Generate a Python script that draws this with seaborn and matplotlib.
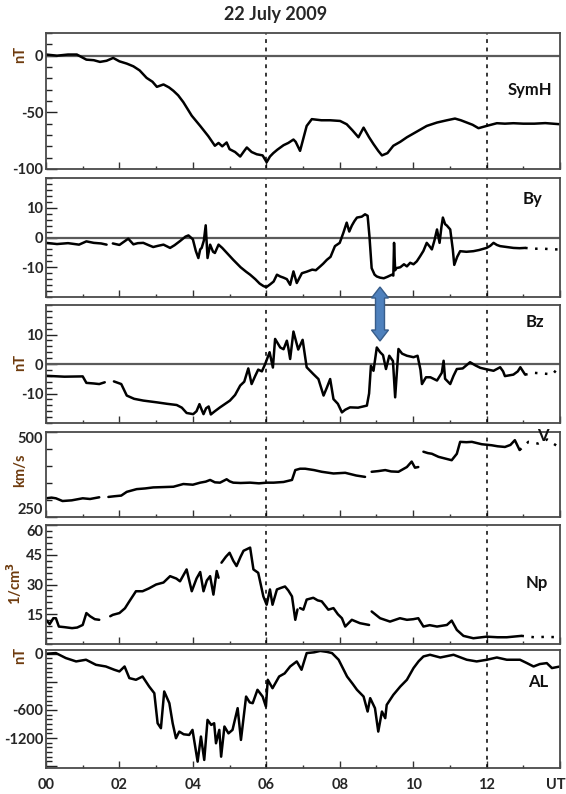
import numpy as np
import pandas as pd
import seaborn as sns
import matplotlib
matplotlib.use("Agg")
import matplotlib.pyplot as plt
from matplotlib.ticker import MultipleLocator, FixedLocator, FuncFormatter
from matplotlib.patches import Polygon
from matplotlib.transforms import ScaledTranslation

nan = np.nan

# SymH (nT)
symh_t = [0, 0.3, 0.6, 0.84, 1.1, 1.3, 1.47, 1.65, 1.83, 2.0, 2.2, 2.38, 2.55, 2.74, 2.9,
          3.02, 3.2, 3.35, 3.47, 3.6, 3.74, 3.97, 4.2, 4.42, 4.6, 4.7, 4.8, 4.92, 5.0, 5.15,
          5.29, 5.4, 5.47, 5.6, 5.74, 5.9, 6.01, 6.1, 6.19, 6.3, 6.47, 6.6, 6.74, 6.8, 6.92,
          7.1, 7.24, 7.5, 7.74, 8.01, 8.19, 8.35, 8.51, 8.65, 8.8, 8.92, 9.05, 9.15, 9.3, 9.46,
          9.65, 9.83, 10.1, 10.37, 10.65, 10.92, 11.14, 11.3, 11.46, 11.62, 11.78, 12.0, 12.28,
          12.5, 12.73, 13.0, 13.3, 13.6, 14.0]
symh = [1, 0, 1, 1, -3.5, -4, -5.5, -4.5, -2, -5, -7, -9.4, -13, -19.6, -23,
        -27.5, -25.4, -28, -31, -35, -41, -53, -62, -71, -79.5, -77, -80, -76.6, -82.5, -85,
        -89, -84, -81, -85, -87, -88, -94, -89, -86, -83, -79, -77, -74, -76, -84,
        -62, -56, -57, -57, -57.6, -60.5, -66, -72, -63.5, -72, -78, -84, -88, -86, -79.5,
        -76, -72, -67, -62, -59, -57, -55.5, -57, -59, -61, -64, -62, -59.6,
        -60, -59.6, -60, -60, -59.5, -60.5]

# By (nT)
by_t = [0, 0.3, 0.6, 0.9, 1.1, 1.3, 1.5, 1.65, 1.74, 1.82, 2.0, 2.24, 2.38, 2.5, 2.65, 2.8,
        2.92, 3.05, 3.2, 3.38, 3.5, 3.65, 3.8, 3.88, 4.0, 4.08, 4.15, 4.2, 4.24, 4.3, 4.35,
        4.4, 4.47, 4.55, 4.6, 4.7, 4.8, 4.95, 5.1, 5.3, 5.45, 5.56, 5.7, 5.82, 5.92, 6.0,
        6.1, 6.2, 6.29, 6.38, 6.47, 6.56, 6.65, 6.74, 6.83, 6.97, 7.1, 7.25, 7.35, 7.47,
        7.55, 7.65, 7.75, 7.87, 8.0, 8.1, 8.19, 8.26, 8.33, 8.4, 8.47, 8.6, 8.69, 8.76,
        8.81, 8.87, 8.95, 9.01, 9.1, 9.2, 9.3, 9.42, 9.46, 9.48, 9.51, 9.54, 9.65, 9.75,
        9.83, 9.92, 10.01, 10.1, 10.19, 10.28, 10.37, 10.45, 10.51, 10.58, 10.65, 10.72,
        10.77, 10.81, 10.87, 10.92, 11.01, 11.08, 11.12, 11.2, 11.28, 11.45, 11.64, 11.8,
        12.0, 12.1, 12.19, 12.28, 12.37, 12.55, 12.73, 12.9, 13.05]
by = [-1.8, -2.2, -1.9, -2.4, -1.3, -1.8, -2.0, -2.4, nan, -2.0, -2.5, -0.4, -2.3, -1.9,
      -1.8, -2.6, -3.2, -2.8, -2.4, -3.5, -2.6, -1.2, 0.3, 0.7, -0.6, -4.5, -6.9, -4.0,
      -3.5, -1.0, 4.1, -6.9, -2.4, -4.8, -5.2, -2.4, -3.5, -5.5, -7.5, -10.0, -11.5, -12.5,
      -14.0, -15.5, -16.3, -16.7, -15.8, -14.8, -12.5, -13.1, -13.5, -14.0, -15.9, -11.4,
      -15.3, -12.0, -11.5, -10.8, -11.0, -9.7, -8.8, -7.5, -6.5, -2.9, -1.8, 1.6, 5.0, 2.0,
      4.0, 5.5, 6.7, 7.0, 7.8, 7.3, 0.4, -10.3, -12.5, -13.1, -13.5, -13.7, -13.2, -12.5,
      -12.8, -1.8, -11.0, -10.3, -10.0, -9.0, -9.7, -8.5, -9.0, -8.0, -6.3, -4.5, -1.8,
      -3.0, -4.0, -1.0, 2.7, -1.8, 3.5, 6.7, 4.5, 4.0, 2.7, -4.0, -9.2, -6.5, -4.6, -4.8,
      -4.6, -4.2, -3.5, -2.8, -1.8, -2.5, -2.9, -3.2, -3.5, -3.6, -3.5]
by_tail_t = [13.05, 13.3, 13.5, 13.7, 13.9, 14.0]
by_tail = [-3.5, -3.8, -3.7, -3.9, -4.0, -4.0]

# Bz (nT)
bz_t = [0, 0.5, 1.0, 1.1, 1.3, 1.45, 1.6, 1.72, 1.85, 2.05, 2.2, 2.4, 2.65, 3.02, 3.3,
        3.56, 3.7, 3.83, 4.01, 4.1, 4.18, 4.24, 4.29, 4.36, 4.43, 4.49, 4.6, 4.74, 5.01,
        5.15, 5.29, 5.4, 5.51, 5.6, 5.7, 5.78, 5.88, 5.97, 6.09, 6.18, 6.24, 6.38, 6.47,
        6.56, 6.6, 6.65, 6.74, 6.87, 6.99, 7.1, 7.28, 7.42, 7.56, 7.65, 7.74, 7.83, 7.95,
        8.06, 8.15, 8.28, 8.5, 8.74, 8.8, 8.85, 8.92, 9.01, 9.1, 9.18, 9.26, 9.35, 9.45,
        9.51, 9.6, 9.7, 9.83, 10.01, 10.12, 10.2, 10.24, 10.35, 10.47, 10.65, 10.78, 10.83,
        10.87, 11.01, 11.1, 11.19, 11.35, 11.55, 11.7, 11.83, 12.0, 12.19, 12.37, 12.45,
        12.5, 12.73, 12.85, 12.92, 13.05]
bz = [-4, -4.3, -4.2, -6.4, -6.6, -6.8, -6.2, nan, -5.9, -6.8, -10.7, -11.8, -12.4, -13,
      -13.5, -13.9, -14.8, -16.6, -17, -16, -13.6, -15.5, -17, -15, -14.4, -17.1, -16,
      -14.7, -12.4, -10.5, -7.3, -6, -1.5, -6.8, -4, -1.9, -2.5, 0, 4, -1.2, 8.5, 5.6, 5.0,
      7.9, 5.5, 1.7, 11, 4.9, 8.2, -1.1, -3.4, -5.1, -10.7, -8, -5.1, -11.9, -13.5, -16.4,
      -15.5, -14.7, -14.8, -14.1, -10, -0.6, -2.3, 5.6, 4, 3, -1.7, 2.8, 1, -11.3, 5.1, 3.5,
      2.8, 2.3, 2.8, -2, -6.8, -4.5, -4.5, -5.6, -3, 1.1, -5, -6.8, -4, -1.7, -1.5, 0.6,
      -0.5, -1.3, -1.8, -2.3, -1.1, -2.5, -4.1, -3.6, -2.5, -1.1, -3.6]
bz_tail_t = [13.05, 13.3, 13.6, 13.8, 13.96, 14.0]
bz_tail = [-3.6, -3.0, -3.3, -3.5, -1.1, -1.0]

# V (km/s)
v_t = [0, 0.15, 0.27, 0.45, 0.7, 1.0, 1.2, 1.45, 1.6, 1.7, 1.86, 2.05, 2.2, 2.47, 2.7,
       2.92, 3.2, 3.47, 3.74, 4.0, 4.2, 4.35, 4.47, 4.6, 4.74, 4.92, 5.0, 5.1, 5.3, 5.56,
       5.8, 6.01, 6.2, 6.47, 6.7, 6.79, 6.92, 7.06, 7.3, 7.51, 7.83, 8.15, 8.45, 8.69,
       8.78, 8.87, 9.05, 9.24, 9.4, 9.6, 9.83, 9.96, 10.05, 10.14, 10.2, 10.28, 10.4,
       10.51, 10.69, 10.87, 11.05, 11.19, 11.28, 11.45, 11.6, 11.87, 12.14, 12.3, 12.5,
       12.65, 12.77, 12.9]
v = [305, 307, 305, 297, 299, 305, 303, 308, nan, 309, 311, 313, 324, 332, 334, 337, 338,
     339, 347, 345, 351, 354, 359, 352, 351, 361, 355, 351, 350, 351, 349, 351, 351, 353,
     359, 388, 392, 392, 388, 383, 378, 380, 372, 368, nan, 383, 385, 388, 384, 383, 397,
     413, 395, 397, nan, 442, 438, 436, 427, 422, 417, 436, 471, 470, 471, 464, 461, 458,
     456, 462, 476, 447]
v_tail_t = [12.9, 13.14, 13.4, 13.65, 13.96, 14.0]
v_tail = [447, 471, 466, 478, 456, 452]

# Np (1/cm3)
np_t = [0, 0.1, 0.2, 0.27, 0.35, 0.5, 0.71, 0.85, 1.0, 1.1, 1.2, 1.33, 1.45, 1.6, 1.75,
        1.82, 2.0, 2.15, 2.27, 2.45, 2.63, 2.8, 3.0, 3.2, 3.38, 3.55, 3.65, 3.83, 3.97, 4.1,
        4.2, 4.29, 4.38, 4.47, 4.56, 4.65, 4.7, 4.74, 4.78, 4.9, 5.0, 5.1, 5.19, 5.3, 5.38,
        5.56, 5.65, 5.78, 5.92, 6.01, 6.1, 6.17, 6.29, 6.4, 6.51, 6.6, 6.7, 6.79, 6.85,
        6.88, 6.92, 7.01, 7.1, 7.28, 7.4, 7.51, 7.69, 7.83, 7.95, 8.06, 8.15, 8.33, 8.55,
        8.8, 8.84, 8.87, 9.1, 9.37, 9.64, 9.83, 10.0, 10.14, 10.28, 10.45, 10.65, 10.92,
        11.05, 11.19, 11.37, 11.64, 12.0, 12.3, 12.55, 12.95]
np_v = [12.2, 10, 13, 13, 8.8, 8.5, 8, 8.3, 9.6, 15.6, 14, 12.5, 12.2, nan, 14, 14.7, 15.6,
        18, 21.5, 26.6, 26.6, 28, 30, 31, 34.2, 33, 31.6, 37.6, 26.6, 33, 36.3, 26.6, 32,
        34.2, 24.9, 36.8, 33.4, nan, 41, 44, 46, 42, 39.3, 44, 47, 48.6, 37.6, 35.9, 24,
        19.8, 27.5, 19.8, 27.5, 28.3, 29, 27, 24, 12.2, 17.4, nan, 18.1, 17.3, 22.4, 23.3,
        22, 21.5, 17.3, 18.1, 15, 13, 8.8, 12.2, 10.5, 9.6, nan, 16.4, 13, 11.3, 13, 12.2,
        12.5, 13, 8.8, 9.5, 8.8, 9.6, 11.8, 7.1, 4.1, 2.9, 3.7, 3.4, 3.4, 4.1]
np_tail_t = [12.95, 13.3, 13.6, 14.0]
np_tail = [4.1, 3.4, 3.6, 3.4]

# AL (nT)
al_t = [0, 0.27, 0.54, 0.82, 1.09, 1.36, 1.63, 1.86, 2.0, 2.14, 2.27, 2.45, 2.63, 2.81,
        2.95, 3.04, 3.13, 3.22, 3.36, 3.45, 3.54, 3.63, 3.75, 3.9, 3.99, 4.13, 4.22, 4.31,
        4.4, 4.5, 4.58, 4.63, 4.72, 4.77, 4.86, 4.97, 5.08, 5.22, 5.31, 5.45, 5.55, 5.63,
        5.76, 5.9, 5.99, 6.04, 6.17, 6.35, 6.5, 6.65, 6.83, 6.96, 7.1, 7.3, 7.47, 7.65,
        7.79, 7.97, 8.2, 8.35, 8.47, 8.65, 8.76, 8.83, 8.96, 9.05, 9.15, 9.24, 9.28, 9.46,
        9.65, 9.83, 10.01, 10.15, 10.28, 10.46, 10.74, 11.1, 11.46, 11.73, 12.01, 12.28,
        12.55, 12.91, 13.1, 13.28, 13.45, 13.64, 13.78, 14.0]
al = [0, 7, -46, -82, -64, -118, -136, -171, -189, -136, -260, -278, -243, -350, -421,
      -742, -795, -403, -528, -742, -902, -831, -860, -867, -813, -1152, -884, -1134, -706,
      -760, -742, -956, -813, -1099, -777, -850, -813, -581, -920, -457, -520, -528, -385,
      -457, -564, -278, -368, -243, -210, -136, -82, -171, 7, 15, 30, 20, 7, -64, -243,
      -320, -385, -457, -617, -474, -581, -831, -617, -688, -546, -439, -350, -278, -153,
      -80, -29, -11, -40, -11, -64, -82, -64, -40, -64, -64, -100, -136, -110, -100, -153,
      -136]

hour_ticks = [0, 2, 4, 6, 8, 10, 12, 14]
hour_labels = ["00", "02", "04", "06", "08", "10", "12", "UT"]

sns.set_theme(style="ticks")
plt.rcParams["font.family"] = ["Lato", "DejaVu Sans"]
plt.rcParams["font.weight"] = "bold"
plt.rcParams["axes.unicode_minus"] = False

UNIT = "#6e3b0e"


def draw(ax, t, vals, ls="-"):
    df = pd.DataFrame({"t": t, "v": vals})
    df["seg"] = df["v"].isna().cumsum()
    df = df.dropna()
    sns.lineplot(data=df, x="t", y="v", units="seg", estimator=None, sort=False,
                 color="black", lw=1.8, linestyle=ls, ax=ax, legend=False)


def style(ax, ylim, label, lx, ly, unit=None, uy=0.5, ux=-0.05, zero=False):
    ax.set_xlim(0, 14)
    ax.set_ylim(*ylim)
    ax.set_xlabel("")
    ax.set_ylabel("")
    for s in ax.spines.values():
        s.set_color("#4a4a4a")
        s.set_linewidth(1.3)
    ax.xaxis.set_major_locator(FixedLocator(hour_ticks))
    ax.xaxis.set_minor_locator(MultipleLocator(1))
    ax.tick_params(axis="x", which="major", direction="in", length=5, width=1, color="#333",
                   labelbottom=False, pad=7, labelsize=10.5)
    ax.tick_params(axis="x", which="minor", direction="in", length=2.5, width=1, color="#333")
    ax.tick_params(axis="y", which="major", direction="in", length=8, width=1, color="#222",
                   labelsize=10.5, pad=2)
    ax.tick_params(axis="y", which="minor", direction="in", length=4.5, width=1, color="#222")
    for xv in (6, 12):
        ax.axvline(xv, color="black", lw=1.1, ls=(0, (2.5, 3)), zorder=1)
    if zero:
        ax.axhline(0, color="#5a5a5a", lw=1.6, zorder=1)
    ax.text(lx, ly, label, transform=ax.transAxes, ha="center", va="center",
            fontsize=12, fontweight="bold", color="#111")
    if unit:
        ax.text(ux, uy, unit, transform=ax.transAxes, rotation=90, ha="center",
                va="center", fontsize=10.5, fontweight="bold", color=UNIT)


fig = plt.figure(figsize=(5.66, 7.94), dpi=100)
L, W = 46 / 566, 514 / 566


def add(top, bot):
    return fig.add_axes([L, 1 - bot / 794, W, (bot - top) / 794])


ax1 = add(33, 169)
ax2 = add(178, 297)
ax3 = add(305, 423)
ax4 = add(432, 517)
ax5 = add(525, 644)
ax6 = add(650, 768)

# SymH
draw(ax1, symh_t, symh)
style(ax1, (-100, 20), "SymH", 0.942, 0.58, "nT", 0.84, zero=True)
ax1.yaxis.set_major_locator(FixedLocator([-100, -50, 0]))
ax1.yaxis.set_minor_locator(MultipleLocator(10))

# By
draw(ax2, by_t, by)
draw(ax2, by_tail_t, by_tail, ls=(0, (1, 3)))
style(ax2, (-20, 20), "By", 0.947, 0.82, zero=True)
ax2.yaxis.set_major_locator(FixedLocator([-10, 0, 10]))
ax2.yaxis.set_minor_locator(MultipleLocator(2))

# Bz
draw(ax3, bz_t, bz)
draw(ax3, bz_tail_t, bz_tail, ls=(0, (1, 3)))
style(ax3, (-20, 20), "Bz", 0.951, 0.86, "nT", 0.51, zero=True)
ax3.yaxis.set_major_locator(FixedLocator([-10, 0, 10]))
ax3.yaxis.set_minor_locator(MultipleLocator(2))

# V
draw(ax4, v_t, v)
draw(ax4, v_tail_t, v_tail, ls=(0, (1, 3)))
style(ax4, (250, 500), "V", 0.967, 0.95, "km/s", 0.55)
ax4.yaxis.set_major_locator(FixedLocator([250, 500]))
ax4.yaxis.set_minor_locator(FixedLocator([300, 350, 400, 450]))
vt = ax4.yaxis.get_major_ticks()
vt[0].label1.set_va("bottom")
vt[1].label1.set_va("top")

# Np
draw(ax5, np_t, np_v)
draw(ax5, np_tail_t, np_tail, ls=(0, (1, 3)))
style(ax5, (0, 60), "Np", 0.955, 0.51, "1/cm$^3$", 0.51, ux=-0.062)
ax5.yaxis.set_major_locator(FixedLocator([15, 30, 45, 60]))
ax5.yaxis.set_minor_locator(MultipleLocator(3))
ax5.yaxis.get_major_ticks()[3].label1.set_va("top")

# AL
draw(ax6, al_t, al)
style(ax6, (-1220, 40), "AL", 0.957, 0.73, "nT", 0.95)
al_labels = {0: "0", -600: "-600", -900: "-1200"}
ax6.yaxis.set_major_locator(MultipleLocator(300))
ax6.yaxis.set_minor_locator(MultipleLocator(50))
ax6.yaxis.set_major_formatter(FuncFormatter(lambda y, p: al_labels.get(int(round(y)), "")))
ax6.tick_params(axis="x", which="major", labelbottom=True)
ax6.xaxis.set_major_formatter(FuncFormatter(lambda x, p: hour_labels[hour_ticks.index(int(round(x)))]))
ut = ax6.xaxis.get_major_ticks()[-1].label1
ut.set_ha("right")
ut.set_transform(ut.get_transform() + ScaledTranslation(6 / 100, 0, fig.dpi_scale_trans))

for ax in (ax1, ax2, ax3, ax4, ax5, ax6):
    for lab in ax.get_yticklabels() + ax.get_xticklabels():
        lab.set_fontweight("bold")

fig.text(0.486, 0.982, "22 July 2009", ha="center", va="center", fontsize=13,
         fontweight="bold")

# blue double arrow between By and Bz
cx, hw, hh = 380 / 566, 4.5 / 566, 8.5 / 566
top, bot, hl = 1 - 287 / 794, 1 - 341 / 794, 11 / 794
arrow = Polygon([(cx, top), (cx + hh, top - hl), (cx + hw, top - hl), (cx + hw, bot + hl),
                 (cx + hh, bot + hl), (cx, bot), (cx - hh, bot + hl), (cx - hw, bot + hl),
                 (cx - hw, top - hl), (cx - hh, top - hl)], closed=True,
                transform=fig.transFigure, facecolor="#4f81bd", edgecolor="#385d8a",
                lw=1, zorder=10)
fig.patches.append(arrow)

fig.savefig("out.png", dpi=100)
